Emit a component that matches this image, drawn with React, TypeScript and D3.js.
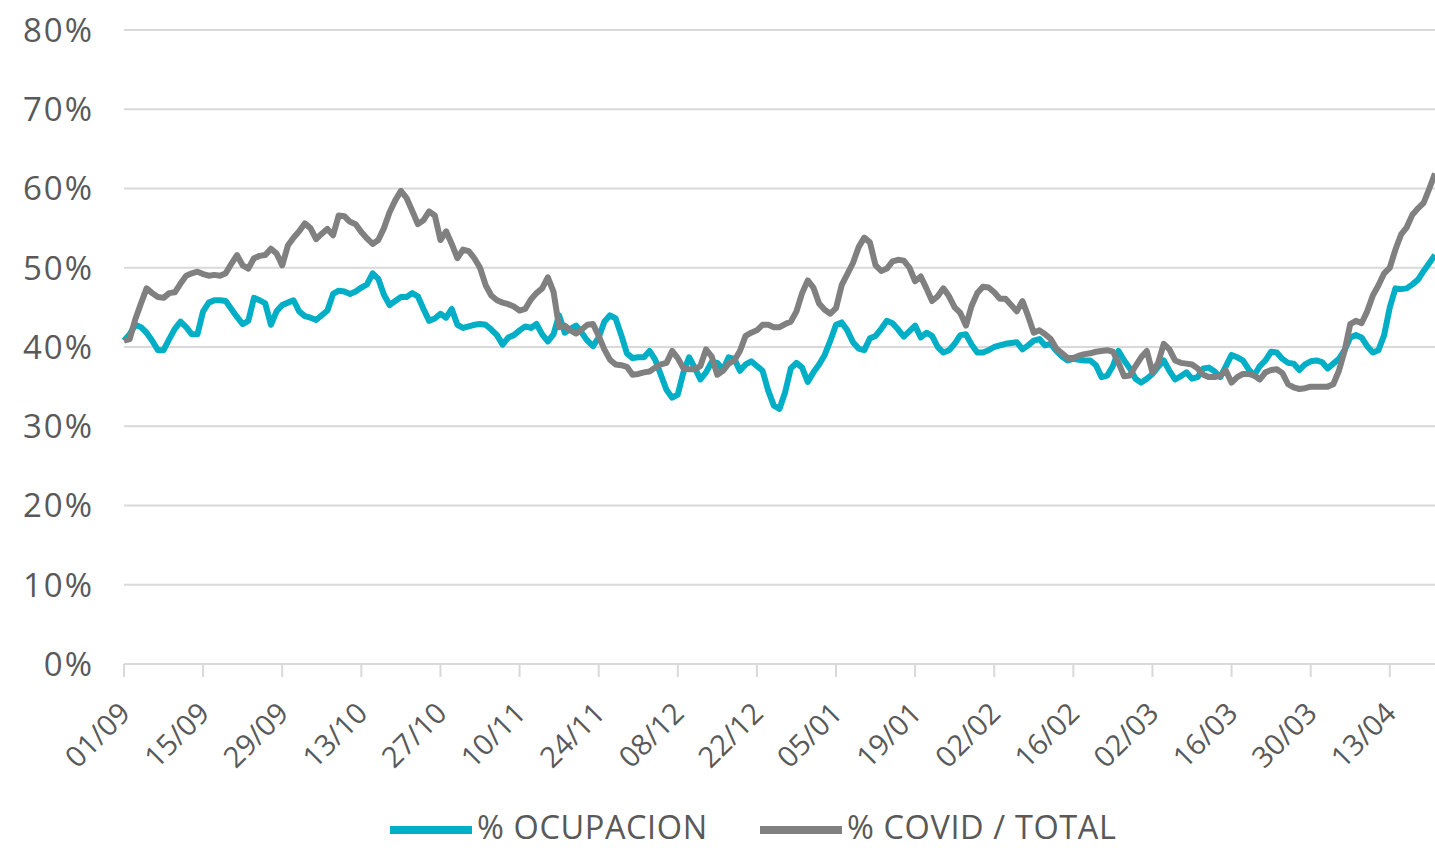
import React from 'react';
import { scaleTime, scaleLinear, line, curveLinear, timeDay, timeFormat } from 'd3';

// daily values, 01/09 .. 21/04 (%)
const ocupacion = [
  40.8, 41.6, 42.8, 42.5, 41.8, 40.8, 39.6, 39.6, 41.0, 42.3,
  43.2, 42.5, 41.6, 41.6, 44.5, 45.6, 45.9, 45.9, 45.8, 44.8,
  43.8, 42.9, 43.3, 46.2, 45.9, 45.5, 42.8, 44.5, 45.3, 45.6,
  45.9, 44.5, 43.9, 43.7, 43.4, 44.0, 44.6, 46.7, 47.1, 47.0,
  46.7, 47.0, 47.5, 47.9, 49.3, 48.6, 46.6, 45.3, 45.8, 46.3,
  46.3, 46.8, 46.4, 44.8, 43.3, 43.6, 44.2, 43.7, 44.8, 42.8,
  42.4, 42.6, 42.8, 42.9, 42.8, 42.2, 41.5, 40.3, 41.2, 41.5,
  42.1, 42.6, 42.4, 42.9, 41.6, 40.7, 41.6, 44.0, 41.8, 42.3,
  42.7, 41.8, 40.8, 40.1, 41.2, 43.2, 44.0, 43.6, 41.5, 39.2,
  38.6, 38.7, 38.7, 39.5, 38.4, 36.5, 34.6, 33.6, 34.0, 36.8,
  38.7, 37.4, 35.9, 36.8, 38.1, 38.0, 37.1, 38.7, 38.5, 37.0,
  37.8, 38.2, 37.6, 37.0, 34.5, 32.6, 32.2, 34.3, 37.3, 38.0,
  37.4, 35.6, 36.8, 37.8, 39.0, 40.8, 42.8, 43.1, 42.1, 40.6,
  39.8, 39.6, 41.1, 41.4, 42.3, 43.3, 43.0, 42.2, 41.3, 42.0,
  42.7, 41.2, 41.8, 41.4, 40.0, 39.3, 39.6, 40.4, 41.5, 41.6,
  40.3, 39.3, 39.3, 39.6, 40.0, 40.2, 40.4, 40.5, 40.6, 39.7,
  40.2, 40.8, 41.0, 40.2, 40.4, 39.5, 38.8, 38.3, 38.5, 38.4,
  38.3, 38.3, 37.7, 36.2, 36.4, 37.6, 39.5, 38.3, 37.3, 36.0,
  35.5, 36.0, 36.6, 37.5, 38.3, 37.0, 35.9, 36.3, 36.8, 36.0,
  36.2, 37.3, 37.4, 36.9, 36.2, 37.6, 39.0, 38.7, 38.3, 37.2,
  36.4, 37.6, 38.3, 39.4, 39.3, 38.5, 38.0, 37.9, 37.1, 37.8,
  38.2, 38.3, 38.1, 37.3, 37.9, 38.5, 39.6, 41.2, 41.5, 41.2,
  40.1, 39.3, 39.6, 41.5, 45.0, 47.4, 47.3, 47.4, 47.9, 48.5,
  49.6, 50.6, 51.6,
];

const covidTotal = [
  40.8, 41.0, 43.5, 45.5, 47.4, 46.8, 46.3, 46.2, 46.8, 46.9,
  48.0, 49.0, 49.3, 49.5, 49.2, 49.0, 49.1, 49.0, 49.3, 50.5,
  51.6, 50.3, 49.9, 51.2, 51.5, 51.6, 52.4, 51.8, 50.3, 52.8,
  53.8, 54.6, 55.6, 55.0, 53.6, 54.3, 54.9, 54.1, 56.6, 56.5,
  55.8, 55.5, 54.5, 53.7, 53.0, 53.5, 55.0, 57.0, 58.5, 59.7,
  58.8, 57.2, 55.5, 56.0, 57.1, 56.6, 53.5, 54.6, 53.0, 51.2,
  52.3, 52.1, 51.2, 50.0, 47.8, 46.5, 45.9, 45.6, 45.4, 45.1,
  44.6, 44.8, 46.0, 46.8, 47.4, 48.8, 47.0, 42.5, 42.7, 42.1,
  41.7, 42.2, 42.8, 42.9, 41.4, 39.7, 38.4, 37.8, 37.7, 37.5,
  36.5, 36.6, 36.8, 36.9, 37.4, 37.8, 38.0, 39.5, 38.6, 37.3,
  37.2, 37.2, 37.6, 39.7, 38.8, 36.5, 37.0, 37.9, 38.3, 39.5,
  41.4, 41.8, 42.1, 42.8, 42.8, 42.5, 42.5, 42.9, 43.2, 44.5,
  46.8, 48.4, 47.5, 45.5, 44.7, 44.2, 44.9, 47.8, 49.2, 50.6,
  52.6, 53.8, 53.2, 50.3, 49.6, 49.9, 50.8, 51.0, 50.9, 50.0,
  48.3, 48.9, 47.4, 45.8, 46.4, 47.4, 46.4, 45.0, 44.3, 42.7,
  45.2, 46.8, 47.6, 47.5, 46.9, 46.1, 46.1, 45.3, 44.5, 45.8,
  43.9, 41.8, 42.1, 41.6, 41.0, 39.8, 39.2, 38.6, 38.6, 38.9,
  39.1, 39.2, 39.4, 39.5, 39.6, 39.4, 38.0, 36.3, 36.4, 37.6,
  38.7, 39.5, 36.8, 38.0, 40.4, 39.7, 38.3, 38.0, 37.9, 37.8,
  37.3, 36.5, 36.2, 36.2, 36.4, 37.0, 35.5, 36.2, 36.6, 36.6,
  36.4, 35.9, 36.8, 37.1, 37.2, 36.7, 35.3, 34.9, 34.7, 34.8,
  35.0, 35.0, 35.0, 35.0, 35.3, 37.0, 39.5, 42.9, 43.3, 43.0,
  44.5, 46.5, 47.8, 49.3, 50.0, 52.3, 54.2, 55.1, 56.7, 57.5,
  58.2, 60.0, 61.9,
];

const startDate = new Date(2020, 8, 1);
const yTicks = [0, 10, 20, 30, 40, 50, 60, 70, 80];
const seriesNames = ['% OCUPACION', '% COVID / TOTAL'];
const seriesColors = ['#00afc6', '#808080'];

const W = 1435;
const H = 848;
const FONT = '"Open Sans", "DejaVu Sans", sans-serif';
const TEXT = '#595959';
const GRID = '#d9d9d9';

export default function App() {
  const dates = ocupacion.map((_, i) => timeDay.offset(startDate, i));

  const x = scaleTime()
    .domain([dates[0], dates[dates.length - 1]])
    .range([124, 1435]);
  const y = scaleLinear().domain([0, 80]).range([664, 30]);

  const xTicks = dates.filter((_, i) => i % 14 === 0);
  const fmt = timeFormat('%d/%m');

  const mkLine = line<number>()
    .x((_, i) => x(dates[i]))
    .y((v) => y(v))
    .curve(curveLinear);

  const series = [ocupacion, covidTotal];
  const legendX = [390, 760];

  return (
    <svg
      width={W}
      height={H}
      style={{ position: 'absolute', left: 0, top: 0, background: '#fff' }}
      fontFamily={FONT}
    >
      {/* grid + y labels */}
      {yTicks.map((t) => (
        <g key={t}>
          {t > 0 && (
            <line x1={124} x2={W} y1={y(t)} y2={y(t)} stroke={GRID} strokeWidth={2} />
          )}
          <text
            x={94}
            y={y(t)}
            dy="0.36em"
            textAnchor="end"
            fontSize={33}
            fill={TEXT}
            letterSpacing={2}
          >
            {t}%
          </text>
        </g>
      ))}

      {/* x axis */}
      <line x1={124} x2={W} y1={y(0)} y2={y(0)} stroke={GRID} strokeWidth={2} />
      {xTicks.map((d, i) => {
        const xx = x(d);
        return (
          <g key={i}>
            <line x1={xx} x2={xx} y1={y(0)} y2={y(0) + 13} stroke={GRID} strokeWidth={2} />
            <text
              transform={`translate(${xx + 8},715) rotate(-45)`}
              textAnchor="end"
              fontSize={29}
              fill={TEXT}
            >
              {fmt(d)}
            </text>
          </g>
        );
      })}

      {/* series */}
      {series.map((s, k) => (
        <path
          key={k}
          d={mkLine(s) || ''}
          fill="none"
          stroke={seriesColors[k]}
          strokeWidth={6}
          strokeLinejoin="round"
        />
      ))}

      {/* legend */}
      {seriesNames.map((name, k) => (
        <g key={name} transform={`translate(${legendX[k]},830)`}>
          <line x1={0} x2={82} y1={0} y2={0} stroke={seriesColors[k]} strokeWidth={8} />
          <text x={87} y={9} fontSize={32.5} letterSpacing={0.6} fill={TEXT}>
            {name}
          </text>
        </g>
      ))}
    </svg>
  );
}
